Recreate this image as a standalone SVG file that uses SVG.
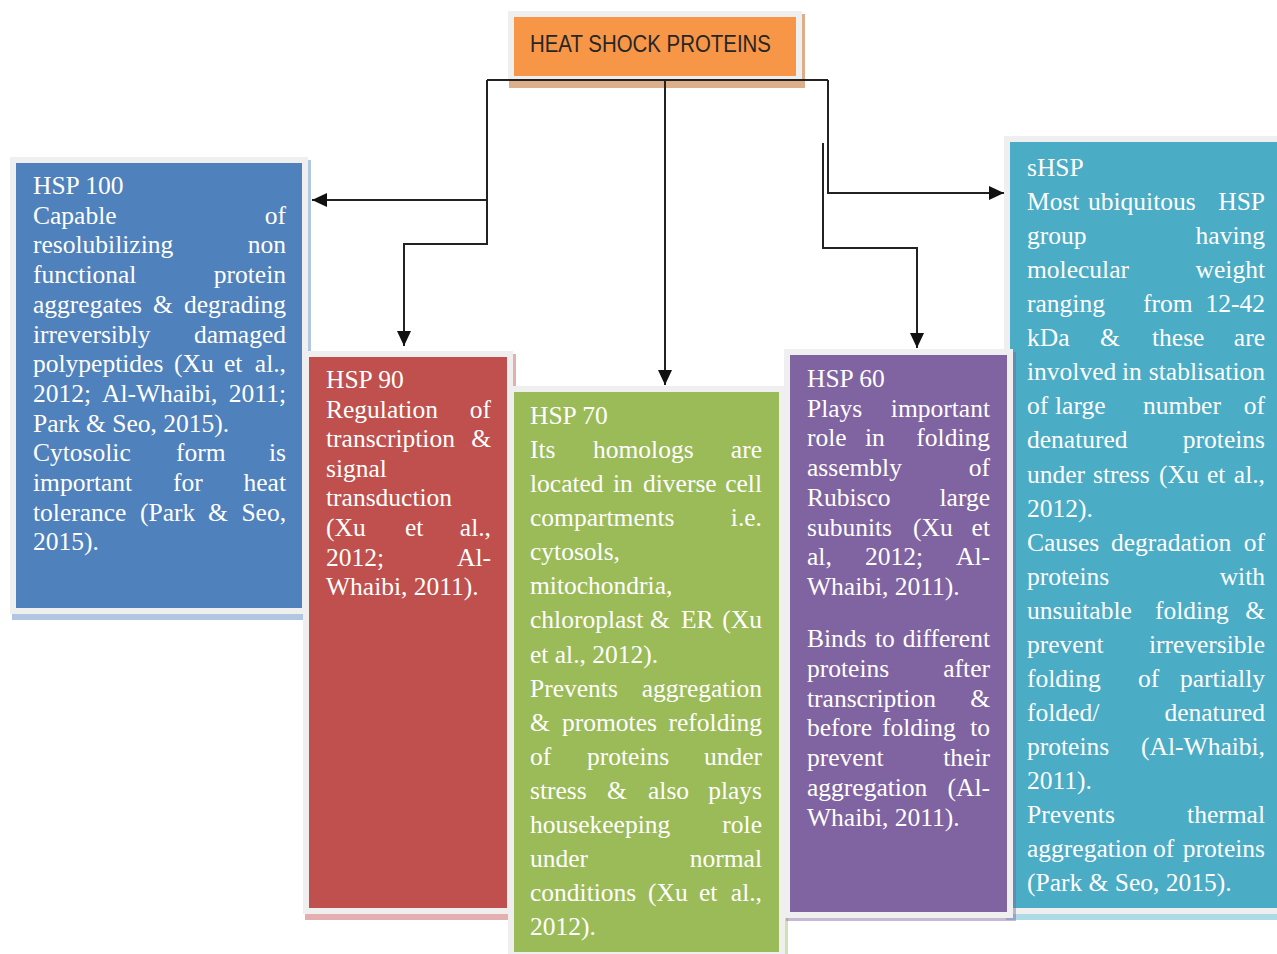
<svg xmlns="http://www.w3.org/2000/svg" width="1277" height="954" viewBox="0 0 1277 954">
<style>
.frame{fill:#efefef}
.t{font-family:"Liberation Serif","Times New Roman",serif;font-size:25.5px;fill:#ffffff}
.r{text-anchor:end}
.conn{fill:none;stroke:#222222;stroke-width:2}
.title{font-family:"Liberation Sans",Arial,sans-serif;font-size:24px;fill:#262626}
</style>
<defs>
<marker id="ah" markerUnits="userSpaceOnUse" markerWidth="16" markerHeight="14" refX="15" refY="7" orient="auto">
<path d="M0,0 L15,7 L0,14 z" fill="#111111"/>
</marker>
</defs>
<rect width="1277" height="954" fill="#ffffff"/>

<g id="title">
<rect x="509" y="14" width="296" height="74" fill="#d39a6c" opacity="0.8"/>
<rect class="frame" x="508" y="11" width="294" height="68"/>
<rect x="514" y="17" width="282" height="59" fill="#F79646"/>
<text class="title" x="530" y="52" textLength="241" lengthAdjust="spacingAndGlyphs">HEAT SHOCK PROTEINS</text>
</g>

<g id="hsp100">
<rect x="12" y="160" width="299" height="460" fill="#4F81BD" opacity="0.45"/>
<rect class="frame" x="10" y="157" width="298" height="457"/>
<rect x="16" y="163" width="286" height="445" fill="#4F81BD"/>
<text class="t" x="33" y="194">HSP 100</text>
<text class="t" x="33" y="223.7">Capable</text><text class="t r" x="286" y="223.7">of</text>
<text class="t" x="33" y="253.4">resolubilizing</text><text class="t r" x="286" y="253.4">non</text>
<text class="t" x="33" y="283.1">functional</text><text class="t r" x="286" y="283.1">protein</text>
<text class="t" x="33" y="312.8">aggregates<tspan x="153">&amp;</tspan></text><text class="t r" x="286" y="312.8">degrading</text>
<text class="t" x="33" y="342.5">irreversibly</text><text class="t r" x="286" y="342.5">damaged</text>
<text class="t" x="33" y="372.2">polypeptides<tspan x="174">(Xu</tspan><tspan x="224">et</tspan></text><text class="t r" x="286" y="372.2">al.,</text>
<text class="t" x="33" y="401.9">2012;<tspan x="102">Al-Whaibi,</tspan></text><text class="t r" x="286" y="401.9">2011;</text>
<text class="t" x="33" y="431.6">Park &amp; Seo, 2015).</text>
<text class="t" x="33" y="461.3">Cytosolic<tspan x="176">form</tspan></text><text class="t r" x="286" y="461.3">is</text>
<text class="t" x="33" y="491">important<tspan x="173">for</tspan></text><text class="t r" x="286" y="491">heat</text>
<text class="t" x="33" y="520.7">tolerance<tspan x="140">(Park</tspan><tspan x="208">&amp;</tspan></text><text class="t r" x="286" y="520.7">Seo,</text>
<text class="t" x="33" y="550.4">2015).</text>
</g>

<g id="hsp90">
<rect x="305" y="354" width="211" height="566" fill="#C0504D" opacity="0.45"/>
<rect class="frame" x="303" y="351" width="210" height="563"/>
<rect x="309" y="357" width="198" height="551" fill="#C0504D"/>
<text class="t" x="326" y="388">HSP 90</text>
<text class="t" x="326" y="417.6">Regulation</text><text class="t r" x="491" y="417.6">of</text>
<text class="t" x="326" y="447.2">transcription</text><text class="t r" x="491" y="447.2">&amp;</text>
<text class="t" x="326" y="476.8">signal</text>
<text class="t" x="326" y="506.4">transduction</text>
<text class="t" x="326" y="536">(Xu<tspan x="405">et</tspan></text><text class="t r" x="491" y="536">al.,</text>
<text class="t" x="326" y="565.6">2012;</text><text class="t r" x="491" y="565.6">Al-</text>
<text class="t" x="326" y="595.2">Whaibi, 2011).</text>
</g>

<g id="hsp70">
<rect x="510" y="389" width="278" height="575" fill="#9BBB59" opacity="0.45"/>
<rect class="frame" x="508" y="386" width="277" height="572"/>
<rect x="514" y="392" width="265" height="560" fill="#9BBB59"/>
<text class="t" x="530" y="424">HSP 70</text>
<text class="t" x="530" y="458.1">Its<tspan x="593">homologs</tspan></text><text class="t r" x="762" y="458.1">are</text>
<text class="t" x="530" y="492.1">located<tspan x="613">in</tspan><tspan x="643">diverse</tspan></text><text class="t r" x="762" y="492.1">cell</text>
<text class="t" x="530" y="526.2">compartments</text><text class="t r" x="762" y="526.2">i.e.</text>
<text class="t" x="530" y="560.3">cytosols,</text>
<text class="t" x="530" y="594.4">mitochondria,</text>
<text class="t" x="530" y="628.4">chloroplast<tspan x="650">&amp;</tspan><tspan x="681">ER</tspan></text><text class="t r" x="762" y="628.4">(Xu</text>
<text class="t" x="530" y="662.5">et al., 2012).</text>
<text class="t" x="530" y="696.6">Prevents</text><text class="t r" x="762" y="696.6">aggregation</text>
<text class="t" x="530" y="730.6">&amp;<tspan x="562">promotes</tspan></text><text class="t r" x="762" y="730.6">refolding</text>
<text class="t" x="530" y="764.7">of<tspan x="587">proteins</tspan></text><text class="t r" x="762" y="764.7">under</text>
<text class="t" x="530" y="798.8">stress<tspan x="607">&amp;</tspan><tspan x="648">also</tspan></text><text class="t r" x="762" y="798.8">plays</text>
<text class="t" x="530" y="832.8">housekeeping</text><text class="t r" x="762" y="832.8">role</text>
<text class="t" x="530" y="866.9">under</text><text class="t r" x="762" y="866.9">normal</text>
<text class="t" x="530" y="901">conditions<tspan x="648">(Xu</tspan><tspan x="699">et</tspan></text><text class="t r" x="762" y="901">al.,</text>
<text class="t" x="530" y="935">2012).</text>
</g>

<g id="shsp">
<rect x="1006" y="139" width="280" height="781" fill="#4BACC6" opacity="0.45"/>
<rect class="frame" x="1004" y="136" width="280" height="778"/>
<rect x="1010" y="142" width="267" height="766" fill="#4BACC6"/>
<text class="t" x="1027" y="176">sHSP</text>
<text class="t" x="1027" y="210.1">Most<tspan x="1088">ubiquitous</tspan></text><text class="t r" x="1265" y="210.1">HSP</text>
<text class="t" x="1027" y="244.1">group</text><text class="t r" x="1265" y="244.1">having</text>
<text class="t" x="1027" y="278.2">molecular</text><text class="t r" x="1265" y="278.2">weight</text>
<text class="t" x="1027" y="312.2">ranging<tspan x="1143">from</tspan></text><text class="t r" x="1265" y="312.2">12-42</text>
<text class="t" x="1027" y="346.3">kDa<tspan x="1100">&amp;</tspan><tspan x="1152">these</tspan></text><text class="t r" x="1265" y="346.3">are</text>
<text class="t" x="1027" y="380.3">involved<tspan x="1122">in</tspan></text><text class="t r" x="1265" y="380.3">stablisation</text>
<text class="t" x="1027" y="414.4">of<tspan x="1055">large</tspan><tspan x="1143">number</tspan></text><text class="t r" x="1265" y="414.4">of</text>
<text class="t" x="1027" y="448.4">denatured</text><text class="t r" x="1265" y="448.4">proteins</text>
<text class="t" x="1027" y="482.5">under<tspan x="1093">stress</tspan><tspan x="1159">(Xu</tspan><tspan x="1207">et</tspan></text><text class="t r" x="1265" y="482.5">al.,</text>
<text class="t" x="1027" y="516.5">2012).</text>
<text class="t" x="1027" y="550.6">Causes<tspan x="1111">degradation</tspan></text><text class="t r" x="1265" y="550.6">of</text>
<text class="t" x="1027" y="584.6">proteins</text><text class="t r" x="1265" y="584.6">with</text>
<text class="t" x="1027" y="618.7">unsuitable<tspan x="1155">folding</tspan></text><text class="t r" x="1265" y="618.7">&amp;</text>
<text class="t" x="1027" y="652.7">prevent</text><text class="t r" x="1265" y="652.7">irreversible</text>
<text class="t" x="1027" y="686.8">folding<tspan x="1138">of</tspan></text><text class="t r" x="1265" y="686.8">partially</text>
<text class="t" x="1027" y="720.8">folded/</text><text class="t r" x="1265" y="720.8">denatured</text>
<text class="t" x="1027" y="754.9">proteins</text><text class="t r" x="1265" y="754.9">(Al-Whaibi,</text>
<text class="t" x="1027" y="788.9">2011).</text>
<text class="t" x="1027" y="823">Prevents</text><text class="t r" x="1265" y="823">thermal</text>
<text class="t" x="1027" y="857">aggregation<tspan x="1153">of</tspan></text><text class="t r" x="1265" y="857">proteins</text>
<text class="t" x="1027" y="891.1">(Park &amp; Seo, 2015).</text>
</g>

<g id="hsp60">
<rect x="786" y="352" width="230" height="569" fill="#8064A2" opacity="0.45"/>
<rect class="frame" x="784" y="349" width="229" height="569"/>
<rect x="790" y="355" width="217" height="557" fill="#8064A2"/>
<text class="t" x="807" y="387">HSP 60</text>
<text class="t" x="807" y="416.7">Plays</text><text class="t r" x="990" y="416.7">important</text>
<text class="t" x="807" y="446.4">role<tspan x="865">in</tspan></text><text class="t r" x="990" y="446.4">folding</text>
<text class="t" x="807" y="476.1">assembly</text><text class="t r" x="990" y="476.1">of</text>
<text class="t" x="807" y="505.8">Rubisco</text><text class="t r" x="990" y="505.8">large</text>
<text class="t" x="807" y="535.5">subunits<tspan x="913">(Xu</tspan></text><text class="t r" x="990" y="535.5">et</text>
<text class="t" x="807" y="565.2">al,<tspan x="865">2012;</tspan></text><text class="t r" x="990" y="565.2">Al-</text>
<text class="t" x="807" y="594.9">Whaibi, 2011).</text>
<text class="t" x="807" y="647">Binds<tspan x="875">to</tspan></text><text class="t r" x="990" y="647">different</text>
<text class="t" x="807" y="676.8">proteins</text><text class="t r" x="990" y="676.8">after</text>
<text class="t" x="807" y="706.6">transcription</text><text class="t r" x="990" y="706.6">&amp;</text>
<text class="t" x="807" y="736.4">before<tspan x="882">folding</tspan></text><text class="t r" x="990" y="736.4">to</text>
<text class="t" x="807" y="766.2">prevent</text><text class="t r" x="990" y="766.2">their</text>
<text class="t" x="807" y="796">aggregation</text><text class="t r" x="990" y="796">(Al-</text>
<text class="t" x="807" y="825.8">Whaibi, 2011).</text>
</g>

<g id="connectors">
<path class="conn" d="M487,80 H828"/>
<path class="conn" d="M487,80 V244 H404 V346" marker-end="url(#ah)"/>
<path class="conn" d="M487,200 H312" marker-end="url(#ah)"/>
<path class="conn" d="M665,80 V385" marker-end="url(#ah)"/>
<path class="conn" d="M828,80 V193 H1004" marker-end="url(#ah)"/>
<path class="conn" d="M823,143 V248 H917 V348" marker-end="url(#ah)"/>
</g>
</svg>
